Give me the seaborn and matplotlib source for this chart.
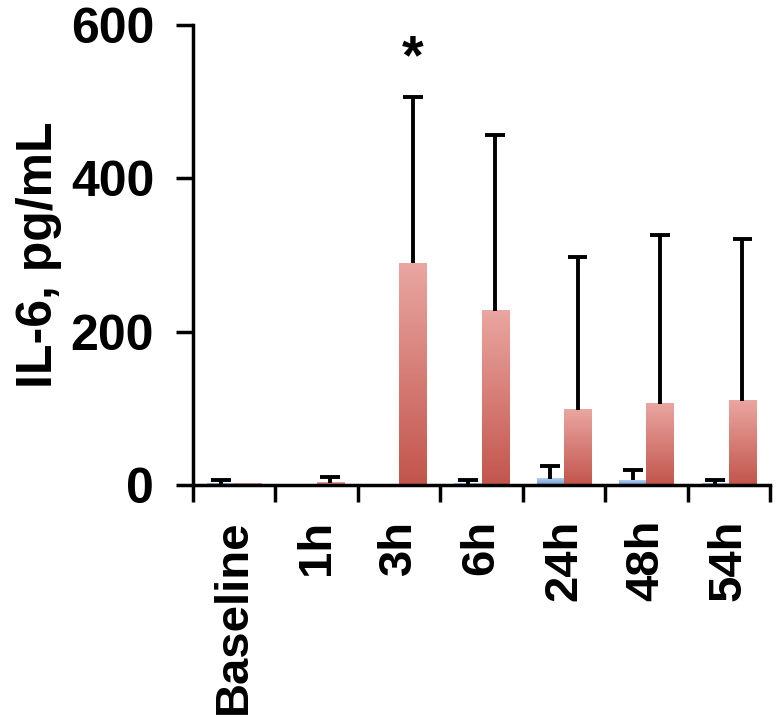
import matplotlib
matplotlib.use("Agg")
import matplotlib.pyplot as plt
from matplotlib.colors import LinearSegmentedColormap
import numpy as np
import pandas as pd
import seaborn as sns

# datos
cats = ["Baseline", "1h", "3h", "6h", "24h", "48h", "54h"]
blue_mean = [2, 1, 1, 2, 8, 6, 2]
blue_err = [4, 0, 0, 4, 17, 14, 4]
red_mean = [2, 3, 289, 227, 98, 106, 110]
red_err = [0, 7, 217, 229, 199, 220, 211]
star_cat = "3h"
star_y = 555

sns.set_style("white")
plt.rcParams["font.family"] = ["Liberation Sans", "DejaVu Sans"]
plt.rcParams["font.weight"] = "bold"
plt.rcParams["text.color"] = "black"
plt.rcParams["xtick.color"] = "black"
plt.rcParams["ytick.color"] = "black"
plt.rcParams["axes.labelcolor"] = "black"
plt.rcParams["axes.edgecolor"] = "black"

df = pd.DataFrame({
    "time": cats * 2,
    "value": blue_mean + red_mean,
    "group": ["blue"] * len(cats) + ["red"] * len(cats),
})

fig = plt.figure(figsize=(7.83, 7.24), dpi=100)
ax = fig.add_axes([0.2465, 0.330, 0.737, 0.6355])

sns.barplot(data=df, x="time", y="value", hue="group", hue_order=["blue", "red"],
            palette=["#8fb3e6", "#d9756c"], width=0.66, errorbar=None,
            legend=False, ax=ax, zorder=2)

cmaps = {
    "blue": LinearSegmentedColormap.from_list("b", ["#6f9ad6", "#b3cff2"]),
    "red": LinearSegmentedColormap.from_list("r", ["#c2554c", "#eaa6a1"]),
}
grad = np.linspace(0, 1, 256).reshape(-1, 1)

n = len(cats)
patches = ax.patches[:2 * n]
for i, p in enumerate(patches):
    grp = "blue" if i < n else "red"
    x0, w, h = p.get_x(), p.get_width(), p.get_height()
    p.set_alpha(0)
    if h <= 0:
        continue
    ax.imshow(grad, cmap=cmaps[grp], origin="lower", aspect="auto",
              extent=[x0, x0 + w, 0, h], zorder=2)

# barras de error solo hacia arriba (sin tapa inferior)
cap = 0.12
for i, p in enumerate(patches):
    grp_mean = blue_mean if i < n else red_mean
    grp_err = blue_err if i < n else red_err
    k = i % n
    if grp_err[k] <= 0:
        continue
    xc = p.get_x() + p.get_width() / 2
    top = grp_mean[k] + grp_err[k]
    ax.vlines(xc, grp_mean[k], top, color="black", lw=2.8, zorder=3)
    ax.hlines(top, xc - cap, xc + cap, color="black", lw=2.8, zorder=3)

# asterisco
k = cats.index(star_cat)
xs = patches[n + k].get_x() + patches[n + k].get_width() / 2
ax.text(xs, star_y, "*", ha="center", va="center", fontsize=40, fontweight="bold")

ax.set_xlim(-0.5, n - 0.5)
ax.set_ylim(0, 600)
ax.set_yticks([0, 200, 400, 600])
ax.set_xticks(range(n))
ax.set_xticklabels(cats, rotation=90, fontsize=34, fontweight="bold")
ax.set_xticks(np.arange(-0.5, n, 1), minor=True)
ax.tick_params(axis="x", which="major", length=0, pad=25)
ax.tick_params(axis="x", which="minor", length=12, width=2.5, direction="out", bottom=True)
ax.tick_params(axis="y", length=12, width=2.5, direction="out", left=True, labelsize=36, pad=16)
for lab in ax.get_yticklabels():
    lab.set_fontweight("bold")

ax.set_xlabel("")
ax.set_ylabel("IL-6, pg/mL", fontsize=36, fontweight="bold", labelpad=6)
sns.despine(ax=ax)
for s in ["left", "bottom"]:
    ax.spines[s].set_linewidth(2.5)

fig.savefig("out.png", dpi=100)
